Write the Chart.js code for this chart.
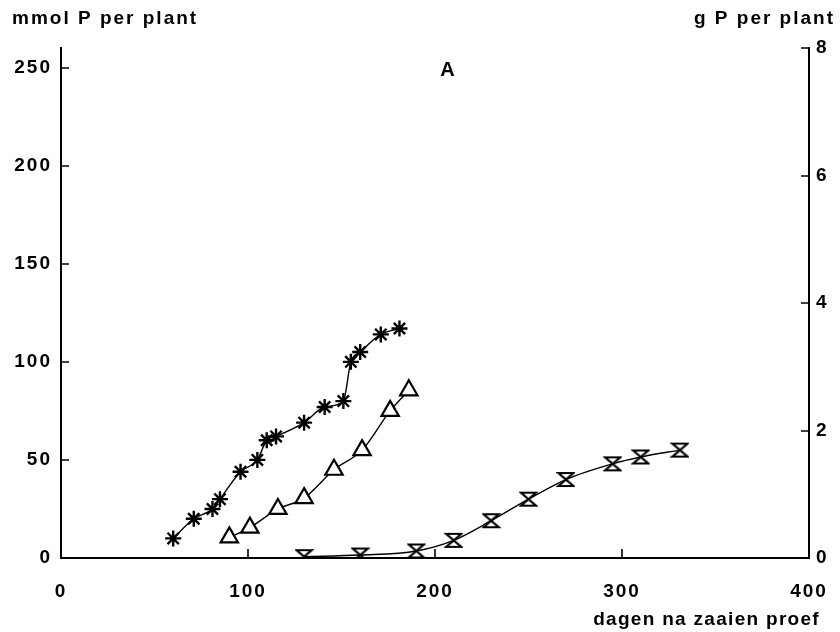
<!DOCTYPE html>
<html>
<head>
<meta charset="utf-8">
<script src="https://cdn.jsdelivr.net/npm/chart.js@4/dist/chart.umd.min.js"></script>
<style>
  html, body { margin: 0; padding: 0; background: #fff; }
  #wrap { width: 840px; height: 632px; }
</style>
</head>
<body>
<div id="wrap"><canvas id="chart" width="840" height="632"></canvas></div>
<script>
// days after sowing, mmol P per plant
const starDays = [60, 71, 81, 85, 96, 105, 110, 115, 130, 141, 151, 155, 160, 171, 181];
const starP = [10, 20, 25, 30, 44, 50, 60, 62, 69, 77, 80, 100, 105, 114, 117];

const triDays = [90, 101, 116, 130, 146, 161, 176, 186];
const triP = [10.5, 15.5, 25, 30.5, 45, 55, 75, 85.5];

const glassDays = [130, 160, 190, 210, 230, 250, 270, 295, 310, 331];
const glassP = [0.7, 1.5, 3.6, 9, 19, 30, 40, 48, 51.5, 55];

const xTicks = [0, 100, 200, 300, 400];
const leftTicks = [0, 50, 100, 150, 200, 250];
const rightTicks = [0, 2, 4, 6, 8];

const FAMILY = '"Liberation Sans", Arial, sans-serif';
const FONT = 'bold 19px ' + FAMILY;
const tickFont = { family: FAMILY, size: 19, weight: 'bold' };

function toPoints(xs, ys) {
  return xs.map((x, i) => ({ x: x, y: ys[i] }));
}

// hourglass marker drawn once on a small canvas
function hourglass() {
  const c = document.createElement('canvas');
  c.width = 19;
  c.height = 17;
  const g = c.getContext('2d');
  g.strokeStyle = '#000';
  g.lineWidth = 2.2;
  g.beginPath();
  g.moveTo(2, 2); g.lineTo(17, 2);
  g.lineTo(2, 15); g.lineTo(17, 15);
  g.closePath();
  g.stroke();
  return c;
}

// inward tick marks, axis titles and panel letter
const decor = {
  id: 'decor',
  beforeDraw(chart) {
    chart.ctx.letterSpacing = '2px';
  },
  afterDraw(chart) {
    const ctx = chart.ctx;
    const a = chart.chartArea;
    const sx = chart.scales.x, yl = chart.scales.y, yr = chart.scales.y2;
    ctx.save();
    ctx.strokeStyle = '#000';
    ctx.lineWidth = 1.6;
    ctx.beginPath();
    xTicks.slice(1, -1).forEach(v => {
      const px = Math.round(sx.getPixelForValue(v));
      ctx.moveTo(px, a.bottom); ctx.lineTo(px, a.bottom - 9);
    });
    leftTicks.slice(1).forEach(v => {
      const py = Math.round(yl.getPixelForValue(v));
      ctx.moveTo(a.left, py); ctx.lineTo(a.left + 8, py);
    });
    rightTicks.slice(1).forEach(v => {
      const py = Math.round(yr.getPixelForValue(v));
      ctx.moveTo(a.right, py); ctx.lineTo(a.right - 8, py);
    });
    ctx.stroke();

    ctx.fillStyle = '#000';
    ctx.font = FONT;
    ctx.letterSpacing = '2px';
    ctx.textBaseline = 'middle';
    ctx.textAlign = 'left';
    ctx.fillText('mmol P per plant', 12, 19);
    ctx.textAlign = 'right';
    ctx.fillText('g P per plant', 835, 19);
    ctx.letterSpacing = '1.3px';
    ctx.fillText('dagen na zaaien proef', 820, 620);
    ctx.textAlign = 'center';
    ctx.font = 'bold 20px ' + FAMILY;
    ctx.fillText('A', 448, 70);
    ctx.restore();
  }
};

const lineStyle = {
  borderColor: '#000',
  borderWidth: 1.4,
  cubicInterpolationMode: 'monotone',
  fill: false
};

const axisBorder = { display: true, color: '#000', width: 2 };

new Chart(document.getElementById('chart'), {
  type: 'line',
  data: {
    datasets: [
      {
        ...lineStyle,
        data: toPoints(starDays, starP),
        pointStyle: 'star',
        pointRadius: 8,
        pointBorderWidth: 2.4,
        pointBorderColor: '#000',
        pointBackgroundColor: '#000'
      },
      {
        ...lineStyle,
        data: toPoints(triDays, triP),
        pointStyle: 'triangle',
        pointRadius: 10,
        pointBorderWidth: 2.2,
        pointBorderColor: '#000',
        pointBackgroundColor: '#fff'
      },
      {
        ...lineStyle,
        data: toPoints(glassDays, glassP),
        pointStyle: hourglass()
      }
    ]
  },
  options: {
    responsive: false,
    animation: false,
    devicePixelRatio: 1,
    layout: { padding: { top: 48, left: 0, right: 0, bottom: 0 } },
    plugins: {
      legend: { display: false },
      tooltip: { enabled: false }
    },
    scales: {
      x: {
        type: 'linear',
        position: 'bottom',
        min: 0,
        max: 400,
        afterFit: s => { s.height = 74; s.paddingLeft = 0; s.paddingRight = 0; },
        afterBuildTicks: s => { s.ticks = xTicks.map(v => ({ value: v })); },
        grid: { display: false, drawTicks: false },
        border: axisBorder,
        ticks: { color: '#000', font: tickFont, padding: 22, maxRotation: 0 }
      },
      y: {
        position: 'left',
        min: 0,
        max: 260,
        afterFit: s => { s.width = 61; s.paddingTop = 0; s.paddingBottom = 0; },
        afterBuildTicks: s => { s.ticks = leftTicks.map(v => ({ value: v })); },
        grid: { display: false, drawTicks: false },
        border: axisBorder,
        ticks: { color: '#000', font: tickFont, padding: 9 }
      },
      y2: {
        position: 'right',
        min: 0,
        max: 8,
        afterFit: s => { s.width = 31; s.paddingTop = 0; s.paddingBottom = 0; },
        afterBuildTicks: s => { s.ticks = rightTicks.map(v => ({ value: v })); },
        grid: { display: false, drawTicks: false },
        border: axisBorder,
        ticks: { color: '#000', font: tickFont, padding: 7 }
      }
    }
  },
  plugins: [decor]
});
</script>
</body>
</html>
